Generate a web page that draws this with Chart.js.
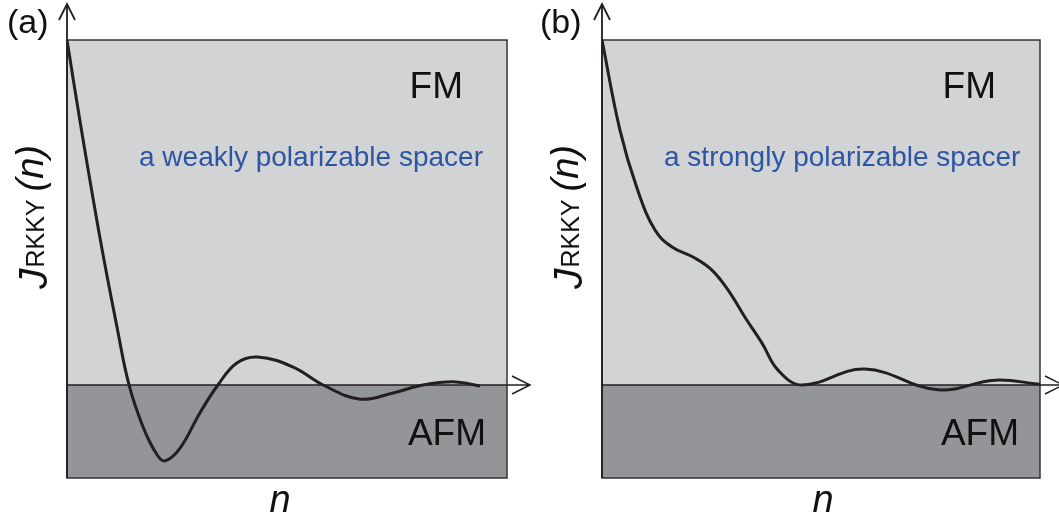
<!DOCTYPE html>
<html lang="en">
<head>
    <meta charset="UTF-8">
    <title>RKKY coupling vs spacer thickness</title>
    <style>
        body {
            margin: 0;
            background: white;
            width: 1059px;
            height: 521px;
            overflow: hidden;
            position: relative;
        }
        canvas {
            position: absolute;
            top: 0;
        }
        #panelA { left: 0; }
        #panelB { left: 535px; }
    </style>
    <script src="https://cdn.jsdelivr.net/npm/chart.js"></script>
</head>
<body>
    <canvas id="panelA" width="535" height="521"></canvas>
    <canvas id="panelB" width="524" height="521"></canvas>
    <script>
        // spacer thickness n (arbitrary units, 0..10) and coupling J (FM > 0, AFM < 0)
        var nWeak = [0, 0.295, 0.75, 1.136, 1.41, 1.73, 2.05, 2.23, 2.57, 3.02, 3.43, 3.86, 4.34, 5.14, 5.82, 6.66, 7.41, 8.09, 8.82, 9.39];
        var jWeak = [1.0, 0.765, 0.426, 0.168, 0, -0.122, -0.203, -0.220, -0.183, -0.081, 0, 0.064, 0.081, 0.052, 0, -0.041, -0.023, 0, 0.009, -0.003];

        var nStrong = [0, 0.41, 0.80, 1.21, 1.60, 2.12, 2.51, 2.88, 3.26, 3.65, 4.02, 4.57, 6.00, 7.67, 8.97, 10.0];
        var jStrong = [1.0, 0.739, 0.570, 0.449, 0.400, 0.368, 0.333, 0.275, 0.197, 0.122, 0.043, 0.0, 0.046, -0.014, 0.014, 0.002];

        var yMin = -0.2696;
        var yMax = 1.0;

        var font = '"Liberation Sans", Arial, Helvetica, sans-serif';
        var lightGray = '#d1d3d4';
        var darkGray = '#939598';
        var ink = '#231f20';
        var blue = '#2d55a6';

        function toPoints(xs, ys) {
            return xs.map(function (x, i) { return { x: x, y: ys[i] }; });
        }

        var panelPlugin = {
            id: 'panel',
            beforeDatasetsDraw: function (chart, args, o) {
                var ctx = chart.ctx, a = chart.chartArea;
                var y0 = chart.scales.y.getPixelForValue(0);
                ctx.save();
                ctx.fillStyle = lightGray;
                ctx.fillRect(a.left, a.top, a.right - a.left, y0 - a.top);
                ctx.fillStyle = darkGray;
                ctx.fillRect(a.left, y0, a.right - a.left, a.bottom - y0);
                ctx.strokeStyle = '#333';
                ctx.lineWidth = 1.5;
                ctx.strokeRect(a.left, a.top, a.right - a.left, a.bottom - a.top);

                // horizontal axis (zero line) with open arrow head
                var xEnd = a.right + 23;
                ctx.strokeStyle = ink;
                ctx.lineWidth = 1.5;
                ctx.beginPath();
                ctx.moveTo(a.left, y0);
                ctx.lineTo(xEnd, y0);
                ctx.moveTo(xEnd - 18, y0 - 9);
                ctx.lineTo(xEnd, y0);
                ctx.lineTo(xEnd - 18, y0 + 9);
                ctx.stroke();
                ctx.restore();
            },
            afterDatasetsDraw: function (chart, args, o) {
                var ctx = chart.ctx, a = chart.chartArea;
                ctx.save();
                // vertical axis with open arrow head
                var yTop = 4;
                ctx.strokeStyle = ink;
                ctx.lineWidth = 1.8;
                ctx.beginPath();
                ctx.moveTo(a.left, a.bottom);
                ctx.lineTo(a.left, yTop);
                ctx.moveTo(a.left - 8, yTop + 16);
                ctx.lineTo(a.left, yTop);
                ctx.lineTo(a.left + 8, yTop + 16);
                ctx.stroke();

                ctx.fillStyle = '#111';
                ctx.textBaseline = 'alphabetic';

                // panel tag
                ctx.textAlign = 'left';
                ctx.font = '34px ' + font;
                ctx.fillText(o.tag, a.left + o.tagX, 33);

                // region labels
                ctx.textAlign = 'right';
                ctx.font = '37px ' + font;
                ctx.fillText('FM', a.left + o.fmRight, 98);
                ctx.fillText('AFM', a.left + o.fmRight + 23, 445);

                // spacer note
                ctx.textAlign = 'left';
                ctx.fillStyle = blue;
                ctx.font = '28px ' + font;
                ctx.fillText(o.note, a.left + o.noteX, 166);

                // x label
                ctx.fillStyle = '#111';
                ctx.textAlign = 'center';
                ctx.font = 'italic 38px ' + font;
                ctx.fillText('n', a.left + o.nX, 512);

                // y label J_RKKY (n), rotated
                ctx.translate(a.left - 24, 289);
                ctx.rotate(-Math.PI / 2);
                ctx.textAlign = 'left';
                ctx.font = 'italic 41px ' + font;
                ctx.fillText('J', 0, 4);
                var x = ctx.measureText('J').width + 1;
                ctx.font = '25px ' + font;
                ctx.fillText('RKKY', x, 1);
                x += ctx.measureText('RKKY').width + 8;
                ctx.font = 'italic 38px ' + font;
                ctx.fillText('(n)', x, 0);
                ctx.restore();
            }
        };

        function makePanel(id, xs, ys, pad, panelOpts) {
            return new Chart(document.getElementById(id), {
                type: 'line',
                data: {
                    datasets: [{
                        data: toPoints(xs, ys),
                        borderColor: ink,
                        borderWidth: 3,
                        pointRadius: 0,
                        fill: false,
                        tension: 0.4
                    }]
                },
                options: {
                    responsive: false,
                    animation: false,
                    layout: { padding: pad },
                    plugins: {
                        legend: { display: false },
                        tooltip: { enabled: false },
                        panel: panelOpts
                    },
                    scales: {
                        x: { type: 'linear', min: 0, max: 10, display: false },
                        y: { min: yMin, max: yMax, display: false }
                    }
                },
                plugins: [panelPlugin]
            });
        }

        makePanel('panelA', nWeak, jWeak,
            { left: 67, right: 28, top: 40, bottom: 43 },
            { tag: '(a)', tagX: -60, fmRight: 396, note: 'a weakly polarizable spacer', noteX: 72, nX: 213 });

        makePanel('panelB', nStrong, jStrong,
            { left: 67, right: 19, top: 40, bottom: 43 },
            { tag: '(b)', tagX: -62, fmRight: 394, note: 'a strongly polarizable spacer', noteX: 62, nX: 221 });
    </script>
</body>
</html>
